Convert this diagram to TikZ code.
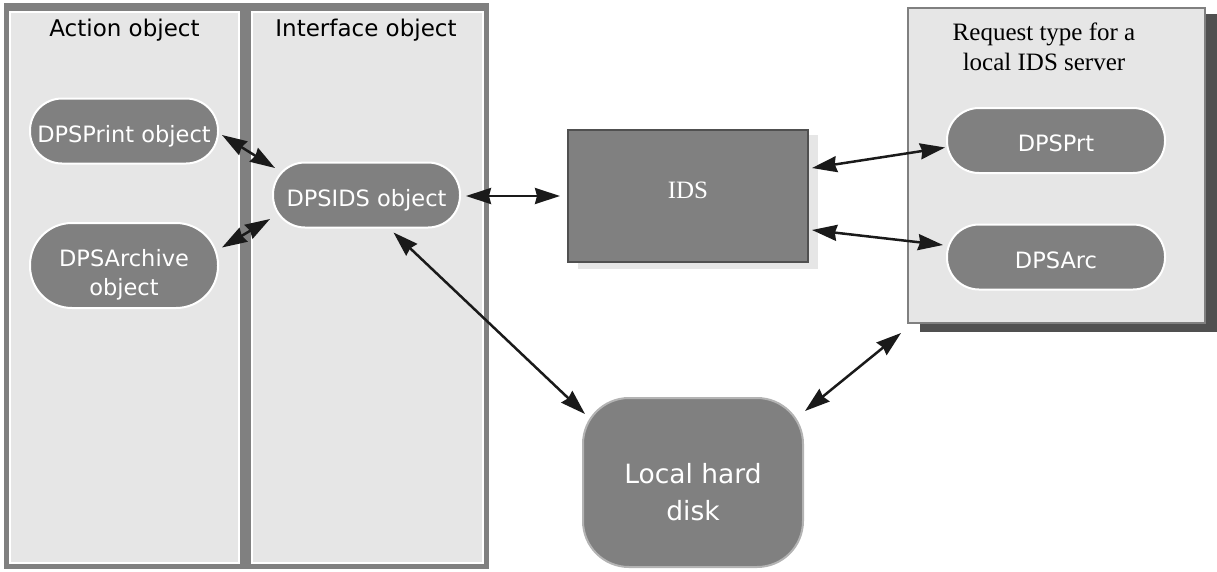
\documentclass[tikz,border=0pt]{standalone}
\usepackage{fontspec}
\newfontfamily\dejavu{DejaVu Sans}
\newfontfamily\libserif{Liberation Serif}
\usetikzlibrary{arrows.meta,calc}
\definecolor{nodegray}{HTML}{808080}
\definecolor{panelgray}{HTML}{E6E6E6}
\definecolor{deepgray}{HTML}{505050}
\definecolor{diskborder}{HTML}{B3B3B3}
\definecolor{arrowblack}{HTML}{1A1A1A}
\begin{document}
\begin{tikzpicture}[x=1pt,y=-1pt,
  every node/.style={inner sep=0pt,outer sep=0pt},
  panel/.style={draw=white,line width=1.5pt,fill=panelgray},
  paneltitle/.style={font=\dejavu\fontsize{23}{28}\selectfont,anchor=base},
  stadium/.style={draw=white,line width=2pt,fill=nodegray,text=white,
    font=\dejavu\fontsize{22.5}{29}\selectfont,align=center,
    rounded corners=32pt,minimum height=65pt},
  oneline/.style={text height=22pt,text depth=0pt},
  link/.style={draw=arrowblack,line width=2.5pt,
    {Stealth[length=25pt,width=16pt,inset=2pt]}-{Stealth[length=25pt,width=16pt,inset=2pt]}},
  serifsty/.style={font=\libserif\fontsize{25}{30}\selectfont}
]
\useasboundingbox (0,0) rectangle (1217,571);
% left frame and panels
\node[fill=nodegray,minimum width=485pt,minimum height=566pt] (frame) at (246.5,286) {};
\node[panel,minimum width=229pt,minimum height=551pt] (actpanel) at (124.5,287.5) {};
\node[panel,minimum width=231pt,minimum height=551pt] (ifpanel) at (367.5,287.5) {};
\node[paneltitle] (acttitle) at (124.5,36) {Action object};
\node[paneltitle] (iftitle) at (366,36) {Interface object};
% stadium nodes
\node[stadium,oneline,minimum width=188pt] (print) at (124,131) {DPSPrint object};
\node[stadium,minimum width=188pt,minimum height=85pt,rounded corners=42pt,
  text height=59pt,text depth=0pt] (archive) at (124,265.5) {DPSArchive\\object};
\node[stadium,oneline,minimum width=187pt] (ids) at (366.5,195) {DPSIDS object};
% IDS box
\node[fill=panelgray,minimum width=240pt,minimum height=134pt] (idsshadow) at (698,202) {};
\node[fill=nodegray,draw=deepgray,line width=2.5pt,minimum width=240pt,minimum height=132pt,
  serifsty,text=white,text height=17pt,text depth=13pt] (idsbox) at (688,196) {IDS};
% right panel
\node[fill=deepgray,minimum width=297pt,minimum height=318pt] (reqshadow) at (1068.5,173) {};
\node[fill=panelgray,draw=nodegray,line width=2.5pt,minimum width=297pt,minimum height=315pt] (req) at (1056.5,165.5) {};
\node[serifsty,align=center,anchor=base] (reqtitle) at (1044,70) {Request type for a\\local IDS server};
\node[stadium,oneline,minimum width=218pt] (prt) at (1056,140.5) {DPSPrt};
\node[stadium,oneline,minimum width=218pt] (arc) at (1056,257) {DPSArc};
% disk
\node[draw=diskborder,line width=2pt,fill=nodegray,text=white,rounded corners=46pt,
  minimum width=220pt,minimum height=169pt,align=center,text height=75pt,text depth=0pt,
  font=\dejavu\fontsize{26.5}{37}\selectfont] (disk) at (693,482.5) {Local hard\\disk};
% connectors
\draw[link] ($(print.east)+(4,4)$) -- ($(ids.west)+(2,-27)$);
\draw[link] ($(archive.east)+(4,-18)$) -- ($(ids.west)+(-3,24)$);
\draw[link] ($(ids.east)+(6,1)$) -- ($(idsbox.west)+(-8,0)$);
\draw[link] ($(idsbox.east)+(4,-28)$) -- ($(prt.west)+(-2,7)$);
\draw[link] ($(idsbox.east)+(4,34)$) -- ($(arc.west)+(-4,-12)$);
\draw[link] ($(ids.south)+(27,5)$) -- ($(disk.north west)+(2,16)$);
\draw[link] ($(disk.north east)+(2,13)$) -- ($(req.south west)+(-7,10)$);
\end{tikzpicture}
\end{document}
